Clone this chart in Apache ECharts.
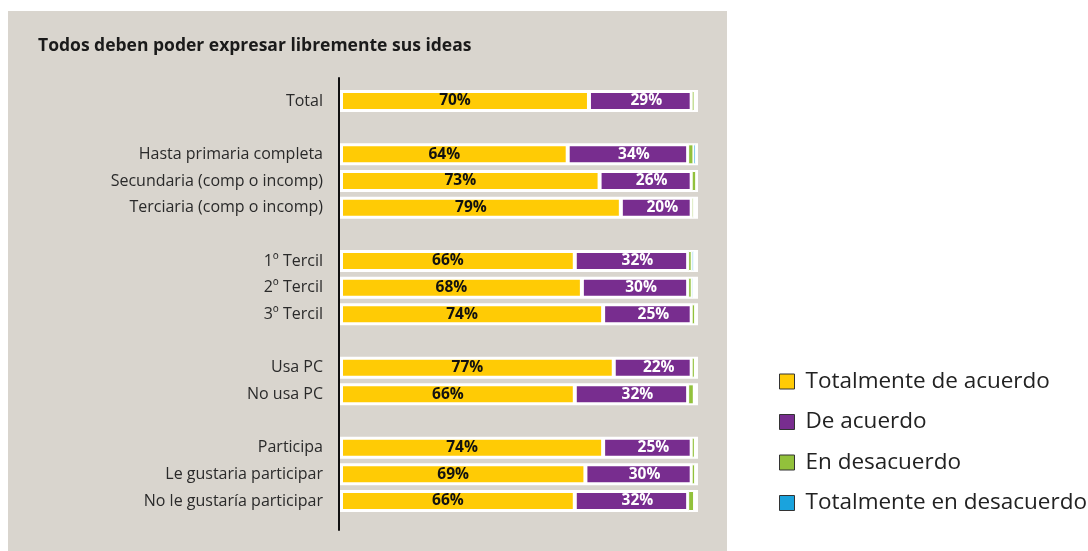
<!DOCTYPE html>
<html>
<head>
<meta charset="utf-8">
<script src="https://cdn.jsdelivr.net/npm/echarts@6/dist/echarts.min.js"></script>
<style>
  html, body { margin: 0; padding: 0; background: #ffffff; }
  #chart { width: 1088px; height: 551px; }
</style>
</head>
<body>
<div id="chart"></div>
<script>
// Row labels; empty strings are spacer rows between groups
const categories = [
  'Total', '',
  'Hasta primaria completa', 'Secundaria (comp o incomp)', 'Terciaria (comp o incomp)', '',
  '1º Tercil', '2º Tercil', '3º Tercil', '',
  'Usa PC', 'No usa PC', '',
  'Participa', 'Le gustaria participar', 'No le gustaría participar'
];

const seriesNames = ['Totalmente de acuerdo', 'De acuerdo', 'En desacuerdo', 'Totalmente en desacuerdo'];

// Percent of respondents per row (null = spacer row)
const totalmenteDeAcuerdo = [70, null, 64, 73, 79, null, 66, 68, 74, null, 77, 66, null, 74, 69, 66];
const deAcuerdo           = [29, null, 34, 26, 20, null, 32, 30, 25, null, 22, 32, null, 25, 30, 32];
const enDesacuerdo        = [0.8, null, 1.5, 1.3, 0.7, null, 1.0, 1.0, 1.0, null, 0.9, 1.6, null, 0.9, 1.0, 1.7];
const totalmenteEnDesac   = [0, null, 0.7, 0, 0, null, 0.6, 0.5, 0, null, 0, 0, null, 0, 0, 0];

const colors = ['#FFCB05', '#782D8F', '#92C13B', '#1AA3DD'];
const font = '"Open Sans", Lato, sans-serif';

// Only real rows become bar items, so spacer rows stay empty
function toItems(values) {
  const items = [];
  values.forEach(function (v, i) {
    if (v !== null) items.push([v, i]);
  });
  return items;
}

const chart = echarts.init(document.getElementById('chart'), null, { renderer: 'canvas' });

function bar(name, values, borderWidth) {
  return {
    type: 'bar',
    name: name,
    stack: 'total',
    barWidth: 20,
    data: toItems(values),
    emphasis: { disabled: true },
    itemStyle: { borderColor: '#ffffff', borderWidth: borderWidth }
  };
}

function pctLabel(color, dx) {
  return {
    show: true, position: 'inside', offset: [dx, 0],
    formatter: function (p) { return p.value[0] + '%'; },
    fontFamily: font, fontWeight: 'bold', fontSize: 15.5, color: color
  };
}

const sTotal = bar(seriesNames[0], totalmenteDeAcuerdo, 2);
sTotal.showBackground = true;
sTotal.backgroundStyle = { color: '#ffffff', borderColor: '#ffffff', borderWidth: 2 };
sTotal.label = pctLabel('#111111', -10);

const sAcuerdo = bar(seriesNames[1], deAcuerdo, 2);
sAcuerdo.label = pctLabel('#ffffff', 6);

const sDesacuerdo = bar(seriesNames[2], enDesacuerdo, 1);
const sTotalDesac = bar(seriesNames[3], totalmenteEnDesac, 1);

chart.setOption({
  animation: false,
  backgroundColor: '#ffffff',
  color: colors,
  textStyle: { fontFamily: font },
  graphic: [
    { type: 'rect', z: -10, shape: { x: 8, y: 11, width: 719, height: 541 }, style: { fill: '#D9D5CE' } }
  ],
  title: {
    text: 'Todos deben poder expresar libremente sus ideas',
    left: 38, top: 37, padding: 0,
    textStyle: { fontFamily: font, fontWeight: 'bold', fontSize: 17.5, color: '#1a1a1a' }
  },
  legend: {
    orient: 'vertical',
    left: 774, top: 365,
    itemWidth: 15, itemHeight: 15, itemGap: 17.5,
    icon: 'rect',
    data: seriesNames,
    itemStyle: { borderColor: '#333333', borderWidth: 1 },
    textStyle: { fontFamily: font, fontSize: 22.5, lineHeight: 22, color: '#222222', padding: [0, 0, 0, 6] },
    selectedMode: false
  },
  grid: [
    { left: 341, top: 87.67, width: 356, height: 426.67 },
    { left: 339, top: 78, width: 10, height: 452 }
  ],
  xAxis: [
    { type: 'value', gridIndex: 0, min: 0, max: 100.5, show: false },
    { type: 'value', gridIndex: 1, show: false }
  ],
  yAxis: [
    {
      type: 'category', gridIndex: 0, inverse: true, data: categories,
      axisLine: { show: false }, axisTick: { show: false }, splitLine: { show: false },
      axisLabel: { margin: 18, fontFamily: font, fontSize: 16, color: '#2a2a2a' }
    },
    {
      type: 'value', gridIndex: 1, position: 'left',
      axisLine: { show: true, onZero: false, lineStyle: { color: '#111111', width: 2 } },
      axisTick: { show: false }, axisLabel: { show: false }, splitLine: { show: false }
    }
  ],
  series: [sTotal, sAcuerdo, sDesacuerdo, sTotalDesac]
});
</script>
</body>
</html>
